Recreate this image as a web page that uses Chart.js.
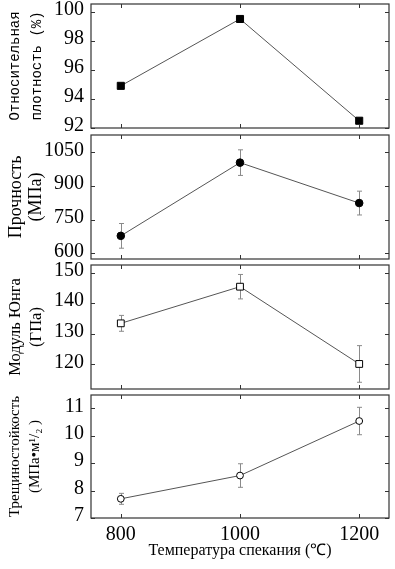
<!DOCTYPE html>
<html>
<head>
<meta charset="utf-8">
<script src="https://cdn.jsdelivr.net/npm/chart.js@4.4.0/dist/chart.umd.min.js"></script>
<style>
  body { margin: 0; background: #fff; width: 395px; height: 569px; overflow: hidden; position: relative; }
  .box { position: absolute; left: 0; width: 395px; }
</style>
</head>
<body>
<div class="box" id="b1"><canvas id="c1"></canvas></div>
<div class="box" id="b2"><canvas id="c2"></canvas></div>
<div class="box" id="b3"><canvas id="c3"></canvas></div>
<div class="box" id="b4"><canvas id="c4"></canvas></div>
<script>
// sintering temperature, °C
const temps = [800, 1000, 1200];
const xTicks = [800, 1000, 1200];

const density = [94.9, 99.5, 92.5];
const densityTicks = [92, 94, 96, 98, 100];

const strength = [678, 1004, 824];
const strengthErr = [55, 57, 53];
const strengthTicks = [600, 750, 900, 1050];

const modulus = [133.4, 145.4, 120.1];
const modulusErr = [2.6, 4, 6];
const modulusTicks = [120, 130, 140, 150];

const toughness = [7.7, 8.55, 10.54];
const toughnessErr = [0.2, 0.43, 0.5];
const toughnessTicks = [7, 8, 9, 10, 11];

const serif = "'Liberation Serif', 'Times New Roman', serif";
const PAD = 14; // canvases overlap a bit so edge tick labels are not cut

// error bars under the markers
const errBars = {
  id: 'errBars',
  beforeDatasetsDraw(chart) {
    const { ctx, scales: { x, y } } = chart;
    ctx.save();
    ctx.strokeStyle = '#8a8a8a';
    ctx.lineWidth = 1;
    chart.data.datasets.forEach(ds => {
      if (!ds.errors) return;
      ds.data.forEach((p, i) => {
        const px = Math.round(x.getPixelForValue(p.x)) + 0.5;
        const yt = y.getPixelForValue(p.y + ds.errors[i]);
        const yb = y.getPixelForValue(p.y - ds.errors[i]);
        ctx.beginPath();
        ctx.moveTo(px, yt); ctx.lineTo(px, yb);
        ctx.moveTo(px - 2.5, yt); ctx.lineTo(px + 2.5, yt);
        ctx.moveTo(px - 2.5, yb); ctx.lineTo(px + 2.5, yb);
        ctx.stroke();
      });
    });
    ctx.restore();
  }
};

// box round the plot + inward ticks on all four sides
const frame = {
  id: 'frame',
  afterDraw(chart) {
    const { ctx, chartArea: a, scales: { x, y } } = chart;
    ctx.save();
    ctx.strokeStyle = '#333';
    ctx.lineWidth = 1.2;
    ctx.strokeRect(a.left, a.top, a.right - a.left, a.bottom - a.top);
    ctx.lineWidth = 1;
    ctx.beginPath();
    y.ticks.forEach(t => {
      const py = Math.round(y.getPixelForValue(t.value)) + 0.5;
      ctx.moveTo(a.left, py); ctx.lineTo(a.left + 4, py);
      ctx.moveTo(a.right, py); ctx.lineTo(a.right - 4, py);
    });
    xTicks.forEach(v => {
      const px = Math.round(x.getPixelForValue(v)) + 0.5;
      ctx.moveTo(px, a.bottom); ctx.lineTo(px, a.bottom - 4);
      ctx.moveTo(px, a.top); ctx.lineTo(px, a.top + 4);
    });
    ctx.stroke();
    ctx.restore();
  }
};

function panel(n, top, bottom, o) {
  const last = !!o.last;
  const box = document.getElementById('b' + n);
  box.style.top = (top - PAD) + 'px';
  box.style.height = (last ? 569 - top + PAD : bottom - top + 2 * PAD) + 'px';
  return new Chart(document.getElementById('c' + n), {
    type: 'line',
    data: {
      datasets: [{
        data: temps.map((t, i) => ({ x: t, y: o.values[i] })),
        errors: o.errors,
        borderColor: '#555',
        borderWidth: 1,
        pointStyle: o.pointStyle,
        pointRadius: o.radius,
        pointBackgroundColor: o.fill,
        pointBorderColor: '#000',
        pointBorderWidth: 1
      }]
    },
    options: {
      responsive: true,
      maintainAspectRatio: false,
      animation: false,
      events: [],
      layout: { padding: { top: PAD, bottom: last ? 0 : PAD, left: 0, right: 6 } },
      plugins: { legend: { display: false }, tooltip: { enabled: false } },
      scales: {
        x: {
          type: 'linear', min: 750, max: 1250,
          display: last,
          grid: { display: false, drawTicks: false },
          border: { display: false },
          afterBuildTicks: s => { s.ticks = xTicks.map(v => ({ value: v })); },
          afterFit: s => { s.height = last ? 51 : 0; s.paddingLeft = s.paddingRight = 0; },
          ticks: {
            autoSkip: false, maxRotation: 0, padding: 5, color: '#000',
            font: { family: serif, size: 20 },
            callback: v => String(v)
          },
          title: {
            display: true, text: 'Температура спекания (℃)', color: '#000',
            padding: { top: 0, bottom: 9 },
            font: { family: serif, size: 16 }
          }
        },
        y: {
          min: o.min, max: o.max,
          grid: { display: false, drawTicks: false },
          border: { display: false },
          afterBuildTicks: s => { s.ticks = o.ticks.map(v => ({ value: v })); },
          afterFit: s => { s.width = 91; s.paddingTop = s.paddingBottom = 0; },
          ticks: {
            autoSkip: false, padding: 7, labelOffset: -2, color: '#000',
            font: { family: serif, size: 20 },
            callback: v => String(v)
          },
          title: {
            display: true, text: o.title, color: '#000',
            padding: { top: o.titlePad, bottom: 0 },
            font: o.titleFont
          }
        }
      }
    },
    plugins: [errBars, frame]
  });
}

panel(1, 4, 128, {
  values: density, errors: null, ticks: densityTicks, min: 92, max: 100.53,
  pointStyle: 'rect', radius: 5, fill: '#000',
  title: ['Относительная', 'плотность (%)'], titlePad: 4,
  titleFont: { family: "'Liberation Mono', monospace", size: 14, lineHeight: '22px' }
});

panel(2, 135, 259, {
  values: strength, errors: strengthErr, ticks: strengthTicks, min: 575, max: 1127,
  pointStyle: 'circle', radius: 3.8, fill: '#000',
  title: ['Прочность', '(МПа)'], titlePad: 6,
  titleFont: { family: serif, size: 18, lineHeight: '20px' }
});

panel(3, 265, 389, {
  values: modulus, errors: modulusErr, ticks: modulusTicks, min: 111.9, max: 152.5,
  pointStyle: 'rect', radius: 4.8, fill: '#fff',
  title: ['Модуль Юнга', '(ГПа)'], titlePad: 5.5,
  titleFont: { family: serif, size: 16.5, lineHeight: '21px' }
});

panel(4, 395, 518, {
  last: true,
  values: toughness, errors: toughnessErr, ticks: toughnessTicks, min: 7, max: 11.49,
  pointStyle: 'circle', radius: 3.4, fill: '#fff',
  title: ['Трещиностойкость', '(МПа•м¹/₂ )'], titlePad: 5,
  titleFont: { family: serif, size: 15, lineHeight: '20px' }
});
</script>
</body>
</html>
